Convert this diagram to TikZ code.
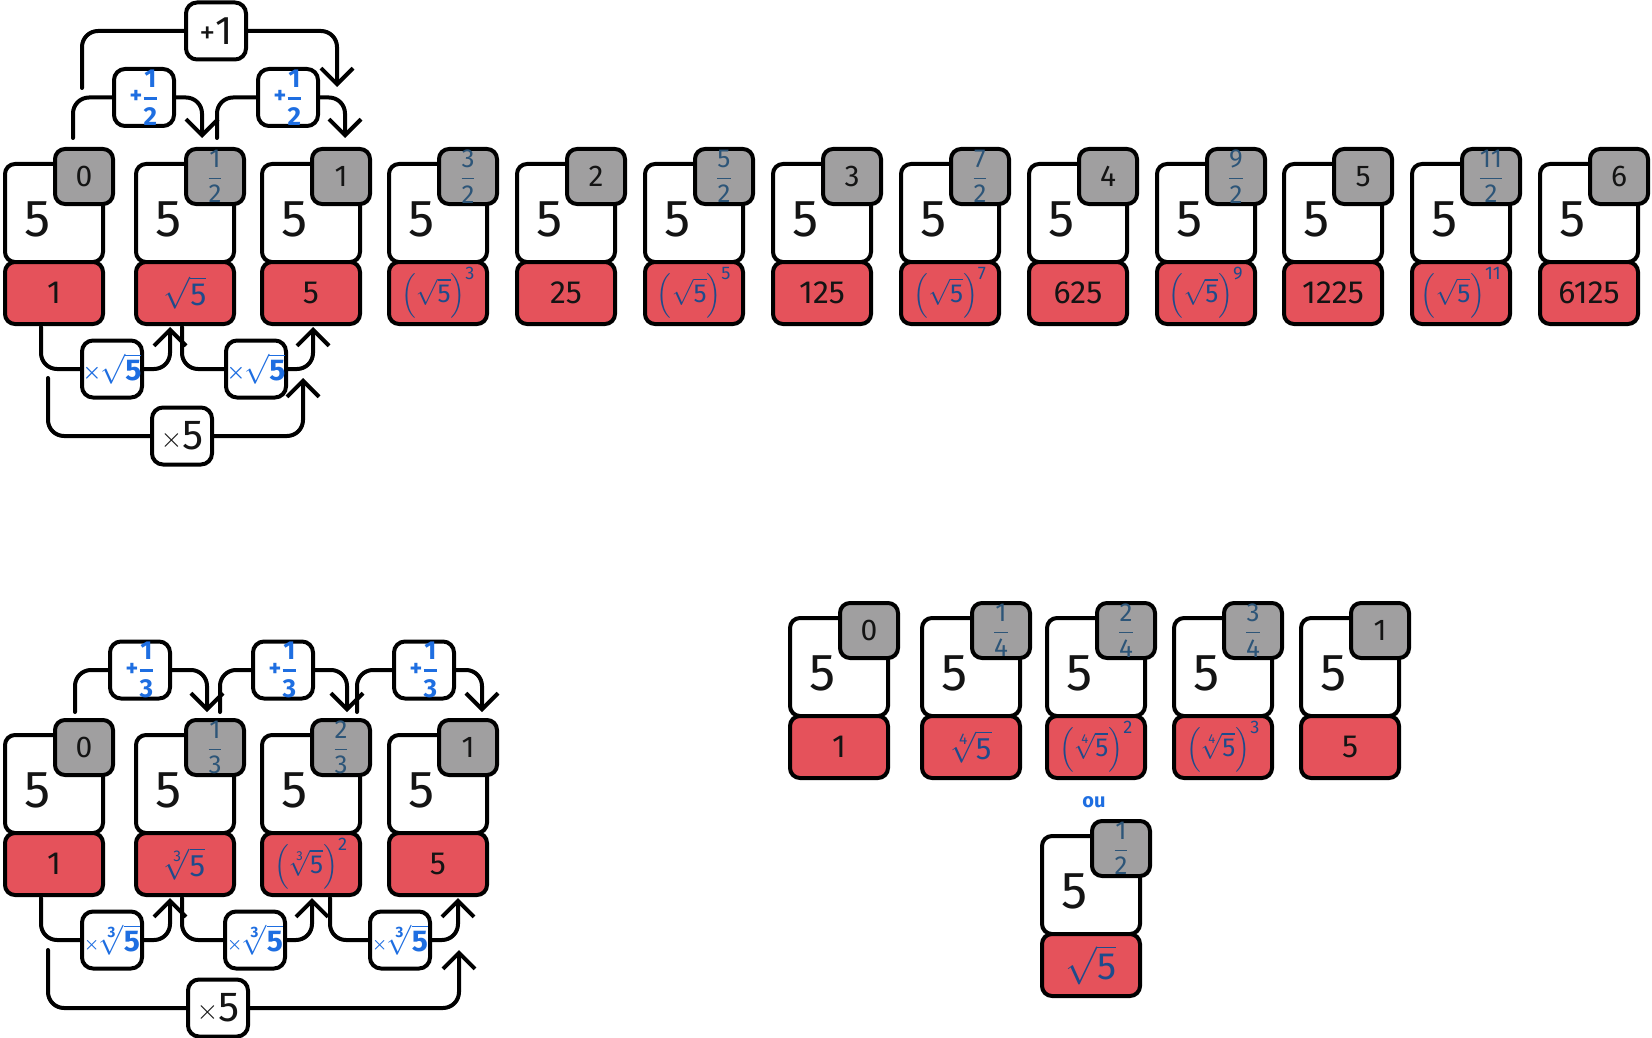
\RequirePackage{fix-cm}
\documentclass[tikz,border=0pt]{standalone}
\usepackage{amsmath}
\usepackage{fontspec}
\setmainfont{Fira Sans}
\usetikzlibrary{arrows.meta,calc}

\definecolor{cardred}{RGB}{229,82,91}
\definecolor{badgegrey}{RGB}{160,159,160}
\definecolor{lblue}{RGB}{30,110,225}
\definecolor{dblue}{RGB}{30,75,140}
\definecolor{fracc}{RGB}{45,85,120}
\definecolor{ink}{RGB}{20,20,20}

\newcommand\fs[1]{\fontsize{#1}{#1}\selectfont}
\newcommand\bfr[2]{{\fs{26}\color{fracc}$\genfrac{}{}{1.3pt}{0}{\text{#1}}{\text{#2}}$}}
\newcommand\rsq[1]{{\fs{#1}\color{dblue}$\sqrt{\text{5}}$}}
\newcommand\rpow[1]{{\fs{26}\color{dblue}$\Bigl(\sqrt{\text{5}}\Bigr)^{\text{#1}}$}}
\newcommand\rroot[1]{{\fs{31}\color{dblue}$\sqrt[\text{#1}]{\text{5}}$}}
\newcommand\rrootpow[2]{{\fs{26}\color{dblue}$\Bigl(\sqrt[\text{#1}]{\text{5}}\Bigr)^{\text{#2}}$}}
\newcommand\lfr[1]{{\color{lblue}\bfseries\raisebox{1pt}{\fs{24}+}{\fs{26}$\genfrac{}{}{2.6pt}{0}{\text{\bfseries 1}}{\text{\bfseries #1}}$}}}
\newcommand\lsq{{\color{lblue}\bfseries\raisebox{2pt}{\fs{21}$\boldsymbol{\times}$}\hspace{-1pt}{\fs{30}$\sqrt{\text{\bfseries 5}}$}}}
\newcommand\lcb{{\color{lblue}\bfseries\raisebox{2pt}{\fs{17}$\boldsymbol{\times}$}{\fs{30}$\sqrt[\text{\bfseries 3}]{\text{\bfseries 5}}$}}}
\newcommand\lfive{{\color{ink}\raisebox{2pt}{\fs{28}$\times$}{\fs{42}5}}}
\newcommand\lone{{\color{ink}\raisebox{1pt}{\fs{32}+}{\fs{40}1}}}

\pgfdeclarelayer{bg}
\pgfsetlayers{bg,main}

\begin{document}
\begin{tikzpicture}[x=1pt,y=-1pt,
  box/.style={draw=black, line width=4pt, rounded corners=10pt, inner sep=0pt, anchor=north west},
  whitebox/.style={box, fill=white, minimum width=98pt, minimum height=98pt},
  redbox/.style={box, fill=cardred, minimum width=98pt, minimum height=62pt, text=ink, font=\fs{32}},
  badgebox/.style={draw=black, line width=4pt, rounded corners=10pt, inner sep=0pt, fill=badgegrey, minimum width=58pt, minimum height=55pt, text=ink, font=\fs{30}},
  bigfive/.style={inner sep=0pt, text=ink, font=\fs{52}},
  lab/.style={draw=black, line width=4pt, rounded corners=11pt, fill=white, inner sep=0pt, minimum width=60pt, minimum height=57pt},
  conn/.style={draw=black, line width=4pt, rounded corners=16pt, line cap=round},
  arr/.style={-{Straight Barb[length=16pt,width=32pt]}}
]
\useasboundingbox (0,0) rectangle (1652,1038);

\newcommand\pcard[5]{%
  \node[whitebox] (#1w) at (#2,#3) {};
  \node[redbox] (#1r) at (#2,#3+98) {#5};
  \node[bigfive] (#1f) at (#2+35,#3+57) {5};
  \node[badgebox] (#1b) at (#2+81,#3+14.5) {#4};
}

% row 1
\pcard{a1}{3}{162}{0}{1}
\pcard{a2}{134}{162}{\bfr{1}{2}}{\rsq{32}}
\pcard{a3}{260}{162}{1}{5}
\pcard{a4}{387}{162}{\bfr{3}{2}}{\rpow{3}}
\pcard{a5}{515}{162}{2}{25}
\pcard{a6}{643}{162}{\bfr{5}{2}}{\rpow{5}}
\pcard{a7}{771}{162}{3}{125}
\pcard{a8}{899}{162}{\bfr{7}{2}}{\rpow{7}}
\pcard{a9}{1027}{162}{4}{625}
\pcard{a10}{1155}{162}{\bfr{9}{2}}{\rpow{9}}
\pcard{a11}{1282}{162}{5}{1225}
\pcard{a12}{1410}{162}{\bfr{11}{2}}{\rpow{11}}
\pcard{a13}{1538}{162}{6}{6125}

% row 2
\pcard{b1}{3}{733}{0}{1}
\pcard{b2}{134}{733}{\bfr{1}{3}}{\rroot{3}}
\pcard{b3}{260}{733}{\bfr{2}{3}}{\rrootpow{3}{2}}
\pcard{b4}{387}{733}{1}{5}

% row 3
\pcard{c1}{788}{616}{0}{1}
\pcard{c2}{920}{616}{\bfr{1}{4}}{\rroot{4}}
\pcard{c3}{1045}{616}{\bfr{2}{4}}{\rrootpow{4}{2}}
\pcard{c4}{1172}{616}{\bfr{3}{4}}{\rrootpow{4}{3}}
\pcard{c5}{1299}{616}{1}{5}

\node[inner sep=0pt, text=lblue, font=\fs{20}\bfseries] (ou) at (1094,802) {ou};
\pcard{d1}{1040}{834}{\bfr{1}{2}}{\rsq{38}}

% labels
\node[lab] (p1) at (216,31) {\lone};
\node[lab] (h1) at (144,97.5) {\lfr{2}};
\node[lab] (h2) at (288,97.5) {\lfr{2}};
\node[lab] (m1) at (112,369) {\lsq};
\node[lab] (m2) at (256,369) {\lsq};
\node[lab] (f1) at (182,436) {\lfive};
\node[lab] (t1) at (140,670) {\lfr{3}};
\node[lab] (t2) at (283,670) {\lfr{3}};
\node[lab] (t3) at (424,670) {\lfr{3}};
\node[lab] (k1) at (112,940) {\lcb};
\node[lab] (k2) at (255,940) {\lcb};
\node[lab] (k3) at (400,940) {\lcb};
\node[lab] (f2) at (218,1008) {\lfive};

% connector ends
\coordinate (p1s) at (82,88);   \coordinate (p1e) at (337,87);
\coordinate (h1s) at (73,138);  \coordinate (h1e) at (202,138);
\coordinate (h2s) at (217,138); \coordinate (h2e) at (345,138);
\coordinate (m1s) at (41,327);  \coordinate (m1e) at (170,327);
\coordinate (m2s) at (182,327); \coordinate (m2e) at (313,327);
\coordinate (f1s) at (48,378);  \coordinate (f1e) at (303,378);
\coordinate (t1s) at (75,712);  \coordinate (t1e) at (207,712);
\coordinate (t2s) at (220,712); \coordinate (t2e) at (347,712);
\coordinate (t3s) at (357,712); \coordinate (t3e) at (482,712);
\coordinate (k1s) at (41,898);  \coordinate (k1e) at (170,898);
\coordinate (k2s) at (182,898); \coordinate (k2e) at (312,898);
\coordinate (k3s) at (330,898); \coordinate (k3e) at (458,898);
\coordinate (f2s) at (48,950);  \coordinate (f2e) at (459,950);

\begin{pgfonlayer}{bg}
\foreach \n in {p1,h1,h2,m1,m2,f1,t1,t2,t3,k1,k2,k3,f2} {
  \draw[conn] (\n s) |- (\n.west);
  \draw[conn,arr] (\n.east) -| (\n e);
}
\end{pgfonlayer}
\end{tikzpicture}
\end{document}
